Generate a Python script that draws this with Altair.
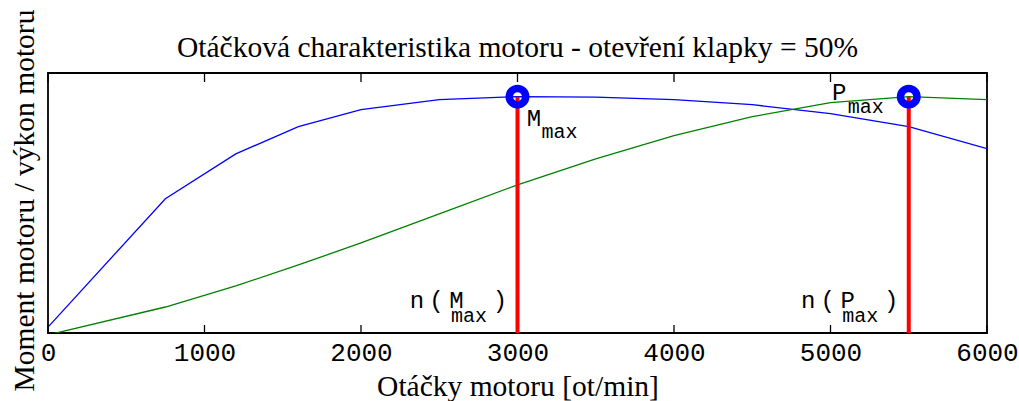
import altair as alt
import pandas as pd

# ---- data ----
rpm = [0, 750, 1200, 1600, 2000, 2500, 3000, 3500, 4000, 4500, 5000, 5500, 6000]
moment = [2.5, 56.8, 75.8, 87.3, 94.5, 98.7, 100.0, 99.8, 98.7, 96.6, 92.8, 87.3, 78.0]
power = [-0.8, 11.0, 19.9, 28.8, 38.1, 50.4, 62.7, 73.7, 83.5, 91.5, 97.5, 100.0, 98.7]
series_names = ["Moment", "Výkon"]
series_colors = ["#0000ff", "#008000"]
x_ticks = [0, 1000, 2000, 3000, 4000, 5000, 6000]
max_rpm = [3000, 5500]
max_val = [100.0, 100.0]

title_text = "Otáčková charakteristika motoru - otevření klapky = 50%"
x_title = "Otáčky motoru [ot/min]"
y_title = "Moment motoru / výkon motoru"

W, H = 939, 260

df = pd.DataFrame({
    "rpm": rpm * 2,
    "value": moment + power,
    "series": [series_names[0]] * len(rpm) + [series_names[1]] * len(rpm),
})
df_max = pd.DataFrame({"rpm": max_rpm, "val": max_val, "base": [0, 0]})
df_ticks = pd.DataFrame({"tick": x_ticks})

xscale = alt.Scale(domain=[0, 6000], nice=False, zero=False)
yscale = alt.Scale(domain=[0, 110], nice=False, zero=False)

serif = "Liberation Serif"
mono = "Liberation Mono"
SF = 29.5

lines = alt.Chart(df).mark_line(strokeWidth=1.3, clip=True).encode(
    x=alt.X("rpm:Q", scale=xscale, axis=alt.Axis(
        values=x_ticks, format="d", title=x_title, ticks=False, tickSize=0,
        domain=False, grid=False, labelFont=mono, labelFontSize=26,
        labelColor="black", labelPadding=6, labelFlush=False, labelOverlap=False,
        titleFont=serif, titleFontSize=SF, titleFontWeight="normal",
        titleColor="black", titleY=62, titleBaseline="alphabetic")),
    y=alt.Y("value:Q", scale=yscale, axis=alt.Axis(
        title=y_title, labels=False, ticks=False, domain=False, grid=False,
        titleFont=serif, titleFontSize=SF, titleFontWeight="normal",
        titleColor="black", titleX=-15, titleY=H / 2 - 3, titleBaseline="alphabetic",
        titleAlign="center", titleAngle=270)),
    color=alt.Color("series:N", scale=alt.Scale(domain=series_names, range=series_colors), legend=None),
)

bottom_ticks = alt.Chart(df_ticks).mark_rule(color="black", strokeWidth=1.3).encode(
    x=alt.X("tick:Q", scale=xscale), y=alt.value(H), y2=alt.value(H - 8))
top_ticks = alt.Chart(df_ticks).mark_rule(color="black", strokeWidth=1.3).encode(
    x=alt.X("tick:Q", scale=xscale), y=alt.value(0), y2=alt.value(9))

red = alt.Chart(df_max).mark_rule(color="#ff0000", strokeWidth=4).encode(
    x=alt.X("rpm:Q", scale=xscale), y=alt.Y("base:Q", scale=yscale), y2="val:Q")

markers = alt.Chart(df_max).mark_point(shape="circle", filled=False, size=272,
                                       strokeWidth=7.5, color="#0000ff", opacity=1).encode(
    x=alt.X("rpm:Q", scale=xscale), y=alt.Y("val:Q", scale=yscale))

# label pieces: (text, point index, at top(1)/bottom(0), dx, dy, font size)
label_texts = ["M", "max", "P", "max", "n", "(", "M", "max", ")", "n", "(", "P", "max", ")"]
label_point = [0, 0, 1, 1, 0, 0, 0, 0, 0, 1, 1, 1, 1, 1]
label_top = [1, 1, 1, 1, 0, 0, 0, 0, 0, 0, 0, 0, 0, 0]
label_dx = [16.5, 42, -69.5, -43, -100.5, -81, -61, -48.5, -17.5, -100.5, -81, -61, -48.5, -17.5]
label_dy = [29, 41, 3, 16, -25, -25, -25, -11, -25, -25, -25, -25, -11, -25]
label_size = [24, 20, 24, 20, 24, 24, 24, 20, 24, 24, 24, 24, 20, 24]

text_layers = []
for t, p, top, dx, dy, fs in zip(label_texts, label_point, label_top, label_dx, label_dy, label_size):
    d = pd.DataFrame({"rpm": [max_rpm[p]], "val": [max_val[p] if top else 0.0], "txt": [t]})
    text_layers.append(
        alt.Chart(d).mark_text(font=mono, fontSize=fs, color="black", align="center",
                               baseline="alphabetic", dx=dx, dy=dy).encode(
            x=alt.X("rpm:Q", scale=xscale), y=alt.Y("val:Q", scale=yscale), text="txt:N"))

title_layer = alt.Chart(pd.DataFrame({"t": [title_text]})).mark_text(
    font=serif, fontSize=SF, color="black", align="center", baseline="alphabetic"
).encode(x=alt.value(W / 2), y=alt.value(-16), text="t:N")

chart = alt.layer(lines, bottom_ticks, top_ticks, red, markers, *text_layers, title_layer).properties(
    width=W, height=H,
    padding={"left": 48, "top": 73, "right": 32, "bottom": 68},
    autosize=alt.AutoSizeParams(type="none"),
    background="white",
).configure_view(stroke="black", strokeWidth=1.8)

chart.save("out.html", embed_options={"renderer": "svg", "actions": False})
